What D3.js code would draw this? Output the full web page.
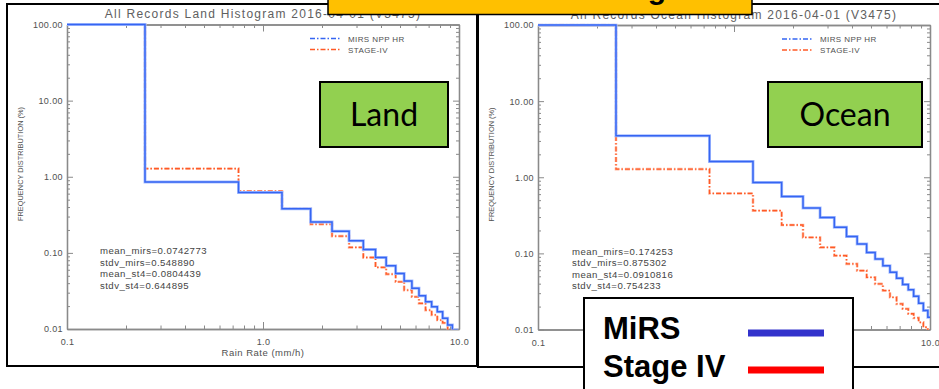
<!DOCTYPE html>
<html><head><meta charset="utf-8">
<script src="https://cdn.jsdelivr.net/npm/d3@7"></script>
<style>
html,body{margin:0;padding:0;background:#fff;overflow:hidden}
svg{display:block}
</style></head><body>
<svg id="chart" width="939" height="389"></svg>
<script>
// Rain-rate bin edges (mm/h); first bin starts at the axis minimum
const binEdges = [0.1, 0.25, 0.75, 1.25, 1.75, 2.25, 2.75, 3.25, 3.75, 4.25, 4.75,
  5.25, 5.75, 6.25, 6.75, 7.25, 7.75, 8.25, 8.75, 9.25, 9.75, 10.25];

// Frequency distribution (%) per bin
const landMirs = [100, 0.855, 0.621, 0.380, 0.255, 0.193, 0.144, 0.111, 0.0871, 0.0676, 0.0537,
  0.0426, 0.0342, 0.0273, 0.0228, 0.0196, 0.0169, 0.0138, 0.0113, 0.0097, 0.008];
const landSt4 = [100, 1.28, 0.645, 0.380, 0.238, 0.166, 0.118, 0.087, 0.0644, 0.0526, 0.0417,
  0.0324, 0.0265, 0.0217, 0.0177, 0.0153, 0.0131, 0.0120, 0.0097, 0.009, 0.008];
const oceanMirs = [100, 3.50, 1.61, 0.855, 0.56, 0.395, 0.297, 0.22, 0.166, 0.133, 0.103,
  0.0845, 0.069, 0.0564, 0.047, 0.039, 0.0332, 0.0273, 0.0221, 0.0177, 0.0145];
const oceanSt4 = [100, 1.28, 0.613, 0.364, 0.236, 0.162, 0.12, 0.0934, 0.0727, 0.0594, 0.0485,
  0.0397, 0.0325, 0.0265, 0.0217, 0.0187, 0.0161, 0.0142, 0.0124, 0.0107, 0.0095];

const landStats = ["mean_mirs=0.0742773", "stdv_mirs=0.548890", "mean_st4=0.0804439", "stdv_st4=0.644895"];
const oceanStats = ["mean_mirs=0.174253", "stdv_mirs=0.875302", "mean_st4=0.0910816", "stdv_st4=0.754233"];

const panelTitles = ["All Records Land Histogram 2016-04-01 (V3475)", "All Records Ocean Histogram 2016-04-01 (V3475)"];
const panelTags = ["Land", "Ocean"];
const seriesNames = ["MIRS NPP HR", "STAGE-IV"];
const keyNames = ["MiRS", "Stage IV"];
const bannerText = "Rain Rate Histogram";

const xTickValues = [0.1, 1, 10];
const xTickLabels = ["0.1", "1.0", "10.0"];
const yTickValues = [100, 10, 1, 0.1, 0.01];
const yTickLabels = ["100.00", "10.00", "1.00", "0.10", "0.01"];
const xLabel = "Rain Rate (mm/h)";
const yLabel = "FREQUENCY DISTRIBUTION (%)";

const svg = d3.select("#chart");
const FONT = "'Liberation Sans', Arial, sans-serif";
const AXIS = "#8a8a8a", TXT = "#505050";
const BLUE = "#3565f2", RED = "#ff5a26";

const minorVals = (lo, hi) => {
  const out = [];
  for (let p = lo; p < hi; p++) for (let k = 2; k <= 9; k++) out.push(k * Math.pow(10, p));
  return out;
};
const xMinor = minorVals(-1, 1);
const yMinor = minorVals(-2, 2);

const panels = [
  {dx: 0, dy: 0, mirs: landMirs, st4: landSt4, stats: landStats, title: panelTitles[0], tag: panelTags[0],
   tagBox: [320, 82, 128, 65], legendX: 310, statsX: 100, xlab: true},
  {dx: 471, dy: 0.5, mirs: oceanMirs, st4: oceanSt4, stats: oceanStats, title: panelTitles[1], tag: panelTags[1],
   tagBox: [768, 82, 154, 65], legendX: 311, statsX: 101, xlab: false}
];

// outer frames
svg.append("rect").attr("x", 7).attr("y", 4).attr("width", 470).attr("height", 362)
  .attr("fill", "#fff").attr("stroke", "#000").attr("stroke-width", 2);
svg.append("rect").attr("x", 478).attr("y", 4).attr("width", 470).attr("height", 363)
  .attr("fill", "#fff").attr("stroke", "#000").attr("stroke-width", 2);

panels.forEach((p, pi) => {
  const g = svg.append("g").attr("transform", `translate(${p.dx},${p.dy})`);
  const x = d3.scaleLog().domain([0.1, 10]).range([67, 459]);
  const y = d3.scaleLog().domain([0.01, 100]).range([329, 24.5]);

  const clipId = "clip" + pi;
  g.append("clipPath").attr("id", clipId).append("rect")
    .attr("x", 67).attr("y", 23).attr("width", 392).attr("height", 306.5);

  // title
  g.append("text").attr("x", 263).attr("y", 18).attr("text-anchor", "middle")
    .attr("font-family", FONT).attr("font-size", 12).attr("fill", "#606060")
    .attr("letter-spacing", 1.25).text(p.title);

  const styleAxis = sel => {
    sel.select(".domain").attr("stroke", AXIS).attr("stroke-width", 1.3);
    sel.selectAll(".tick line").attr("stroke", AXIS).attr("stroke-width", 1);
    sel.selectAll(".tick text").attr("fill", TXT).attr("font-family", FONT).attr("font-size", 9)
      .attr("letter-spacing", 0.4);
  };

  // bottom
  g.append("g").attr("transform", "translate(0,329)")
    .call(d3.axisBottom(x).tickValues(xTickValues).tickSize(-7).tickSizeOuter(0).tickPadding(10)
      .tickFormat((d, i) => xTickLabels[i])).call(styleAxis);
  g.append("g").attr("transform", "translate(0,329)")
    .call(d3.axisBottom(x).tickValues(xMinor).tickSize(-3.5).tickSizeOuter(0).tickFormat("")).call(styleAxis);
  // top
  g.append("g").attr("transform", "translate(0,24.5)")
    .call(d3.axisTop(x).tickValues(xTickValues).tickSize(-7).tickSizeOuter(0).tickFormat("")).call(styleAxis);
  g.append("g").attr("transform", "translate(0,24.5)")
    .call(d3.axisTop(x).tickValues(xMinor).tickSize(-3.5).tickSizeOuter(0).tickFormat("")).call(styleAxis);
  // left
  g.append("g").attr("transform", "translate(67,0)")
    .call(d3.axisLeft(y).tickValues(yTickValues).tickSize(-6).tickSizeOuter(0).tickPadding(4)
      .tickFormat((d, i) => yTickLabels[i])).call(styleAxis);
  g.append("g").attr("transform", "translate(67,0)")
    .call(d3.axisLeft(y).tickValues(yMinor).tickSize(-3).tickSizeOuter(0).tickFormat("")).call(styleAxis);
  // right
  g.append("g").attr("transform", "translate(459,0)")
    .call(d3.axisRight(y).tickValues(yTickValues).tickSize(-6).tickSizeOuter(0).tickFormat("")).call(styleAxis);
  g.append("g").attr("transform", "translate(459,0)")
    .call(d3.axisRight(y).tickValues(yMinor).tickSize(-3).tickSizeOuter(0).tickFormat("")).call(styleAxis);

  // axis titles
  if (p.xlab) {
    g.append("text").attr("x", 263).attr("y", 356).attr("text-anchor", "middle")
      .attr("font-family", FONT).attr("font-size", 9.5).attr("fill", TXT).attr("letter-spacing", 0.5)
      .text(xLabel);
  }
  g.append("text").attr("transform", "translate(22.5,164) rotate(-90)").attr("text-anchor", "middle")
    .attr("font-family", FONT).attr("font-size", 7.4).attr("fill", TXT)
    .text(yLabel);

  // step lines
  const stepPts = vals => {
    const pts = vals.map((v, i) => [binEdges[i], v]);
    pts.push([binEdges[vals.length], vals[vals.length - 1]]);
    return pts;
  };
  const line = d3.line().x(d => x(d[0])).y(d => y(d[1])).curve(d3.curveStepAfter);
  const plot = g.append("g").attr("clip-path", `url(#${clipId})`);
  plot.append("path").attr("d", line(stepPts(p.st4))).attr("fill", "none")
    .attr("stroke", "#ffb8a0").attr("stroke-width", 2.6).attr("stroke-dasharray", "5,2,1.5,2");
  plot.append("path").attr("d", line(stepPts(p.st4))).attr("fill", "none")
    .attr("stroke", RED).attr("stroke-width", 1.3).attr("stroke-dasharray", "5,2,1.5,2");
  plot.append("path").attr("d", line(stepPts(p.mirs))).attr("fill", "none")
    .attr("stroke", "#a9bfff").attr("stroke-width", 3);
  plot.append("path").attr("d", line(stepPts(p.mirs))).attr("fill", "none")
    .attr("stroke", BLUE).attr("stroke-width", 1.5);

  // series key inside the plot
  [[BLUE, 38.5], [RED, 49.5]].forEach(([c, yy], i) => {
    g.append("line").attr("x1", p.legendX).attr("x2", p.legendX + 30).attr("y1", yy).attr("y2", yy)
      .attr("stroke", c).attr("stroke-width", 1.3).attr("stroke-dasharray", "5,2,1.5,2");
    g.append("text").attr("x", p.legendX + 38).attr("y", yy + 3).attr("font-family", FONT)
      .attr("font-size", 8).attr("fill", TXT).attr("letter-spacing", 0.4).text(seriesNames[i]);
  });

  // statistics
  p.stats.forEach((s, i) => {
    g.append("text").attr("x", p.statsX).attr("y", 254 + i * 11.5).attr("font-family", FONT)
      .attr("font-size", 9.6).attr("fill", "#444").attr("letter-spacing", 0.45).text(s);
  });
});

// surface-type tags
panels.forEach(p => {
  const [bx, by, bw, bh] = p.tagBox;
  svg.append("rect").attr("x", bx).attr("y", by).attr("width", bw).attr("height", bh)
    .attr("fill", "#92d050").attr("stroke", "#000").attr("stroke-width", 2);
  svg.append("text").attr("x", bx + bw / 2).attr("y", by + bh / 2 + 11).attr("text-anchor", "middle")
    .attr("font-family", "Lato, 'Open Sans', sans-serif").attr("font-size", 32).attr("fill", "#000")
    .text(p.tag);
});

// banner across the top
svg.append("rect").attr("x", 328).attr("y", -4).attr("width", 424).attr("height", 18.5)
  .attr("fill", "#ffc000").attr("stroke", "#000").attr("stroke-width", 1.5);
svg.append("text").attr("x", 426).attr("y", -1).attr("font-family", FONT).attr("font-weight", "bold")
  .attr("font-size", 30).attr("fill", "#000").text(bannerText);

// colour key
svg.append("rect").attr("x", 584).attr("y", 298).attr("width", 269).attr("height", 100)
  .attr("fill", "#fff").attr("stroke", "#000").attr("stroke-width", 2);
[["#3333cc", 339, 333], ["#ff0000", 377, 370]].forEach(([c, ty, ly], i) => {
  svg.append("text").attr("x", 603).attr("y", ty).attr("font-family", FONT).attr("font-weight", "bold")
    .attr("font-size", 31).attr("fill", "#000").text(keyNames[i]);
  svg.append("line").attr("x1", 748).attr("x2", 824).attr("y1", ly).attr("y2", ly)
    .attr("stroke", c).attr("stroke-width", 7);
});
</script>
</body></html>
